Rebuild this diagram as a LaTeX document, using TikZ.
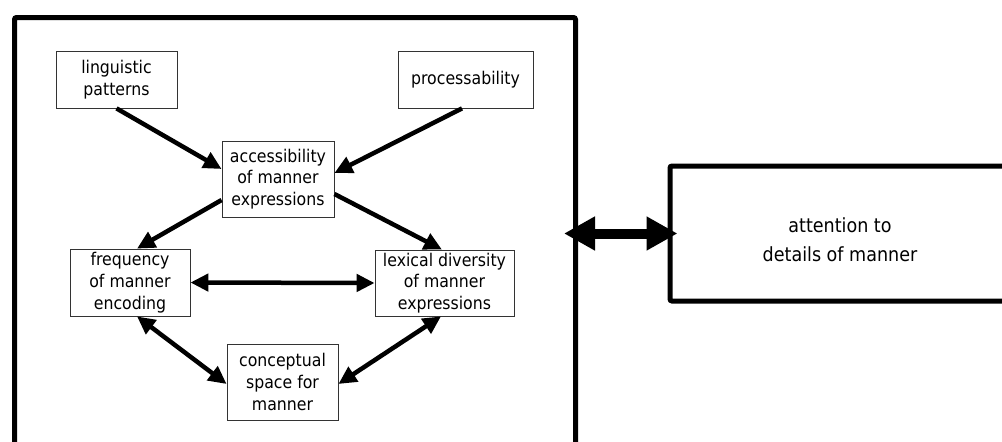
\documentclass[tikz,border=0pt]{standalone}
\usepackage{fontspec}
\setmainfont{DejaVu Sans Condensed}
\usetikzlibrary{arrows.meta,calc}
\begin{document}
\begin{tikzpicture}[x=1pt,y=-1pt,
  box/.style={draw=black!80,line width=0.8pt,inner sep=0pt,align=center,font=\fontsize{17.5}{21.7}\selectfont},
  arr/.style={line width=4.5pt,-{Triangle[length=18pt,width=17pt]}},
  darr/.style={line width=4.5pt,{Triangle[length=18pt,width=17pt]}-{Triangle[length=18pt,width=17pt]}},
  bigdarr/.style={line width=10pt,{Triangle[length=31pt,width=32pt]}-{Triangle[length=31pt,width=32pt]}},
  frame/.style={draw,line width=5pt,rounded corners=2pt,inner sep=0pt}]
\useasboundingbox (0,0) rectangle (1002,442);
\clip (0,0) rectangle (1002,442);
\fill[white] (0,0) rectangle (1002,442);
% outer frames
\node[frame,minimum width=561pt,minimum height=505pt,anchor=north west] (outer) at (12,15) {};
\node[frame,minimum width=340pt,minimum height=135pt,
  label={[align=center,font=\fontsize{19.5}{29}\selectfont,yshift=-6pt]center:{attention to\\details of manner}}] (att) at (840,233.5) {};
% inner boxes
\node[box,minimum width=121pt,minimum height=57pt] (ling) at (116.5,79.5) {linguistic\\patterns};
\node[box,minimum width=135pt,minimum height=57pt] (proc) at (465.5,79.5) {processability};
\node[box,minimum width=112pt,minimum height=76pt] (acc) at (278,179) {accessibility\\of manner\\expressions};
\node[box,minimum width=120pt,minimum height=67pt] (freq) at (130,282.5) {frequency\\of manner\\encoding};
\node[box,minimum width=139pt,minimum height=66pt] (lex) at (444.5,283) {lexical diversity\\of manner\\expressions};
\node[box,minimum width=111pt,minimum height=76pt] (conc) at (282.5,382) {conceptual\\space for\\manner};
% connectors
\draw[arr] (ling.south) -- ($(acc.west)+(0,-10)$);
\draw[arr] ($(proc.south)+(-3.5,0)$) -- ($(acc.east)+(0,-6)$);
\draw[arr] ($(acc.west)+(0,21)$) -- ($(freq.north)+(7,0)$);
\draw[arr] ($(acc.east)+(0,15)$) -- ($(lex.north)+(-2.5,0)$);
\draw[darr] (freq.east) -- (lex.west);
\draw[darr] ($(freq.south)+(7,0)$) -- ($(conc.west)+(0,2)$);
\draw[darr] ($(lex.south)+(-3.5,0)$) -- ($(conc.east)+(0,2)$);
\draw[bigdarr] ($(outer.east |- att.west)+(-14,0)$) -- ($(att.west)+(10,0)$);
\end{tikzpicture}
\end{document}
